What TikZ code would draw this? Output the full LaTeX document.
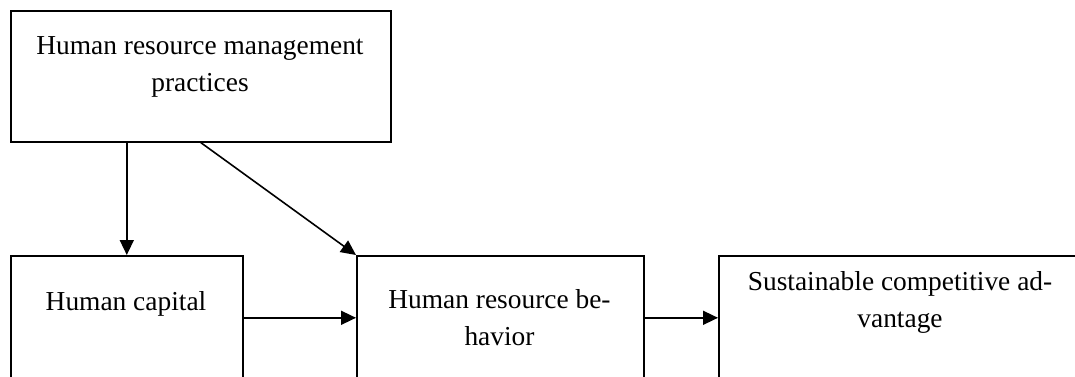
\documentclass[tikz,border=0pt]{standalone}
\usepackage{fontspec}
\setmainfont{Liberation Serif}
\usetikzlibrary{arrows.meta}
\begin{document}
\begin{tikzpicture}[x=1pt,y=-1pt,
  box/.style={draw=black,line width=1.6pt,inner sep=0pt,anchor=north west},
  lbl/.style={font=\fontsize{27.4}{37}\selectfont,align=center,inner sep=0pt},
  arr/.style={line width=1.6pt,-{Triangle[length=15pt,width=14pt]}}]
\useasboundingbox (0,0) rectangle (1075,376);
\clip (0,0) rectangle (1075,376);
\fill[white] (0,0) rectangle (1075,376);
% boxes
\node[box,minimum width=380pt,minimum height=131pt] (hrm) at (10,10) {};
\node[box,minimum width=232pt,minimum height=124pt] (hc) at (10,255) {};
\node[box,minimum width=287pt,minimum height=124pt] (hrb) at (356,255) {};
\node[box,minimum width=364pt,minimum height=124pt] (sca) at (718,255) {};
% texts
\node[lbl] (thrm) at (200,67.2) {Human resource management\\practices};
\node[lbl,anchor=base] (thc) at (126,310) {Human capital};
\node[lbl] (thrb) at (499.5,317.7) {Human resource be-\\havior};
\node[lbl] (tsca) at (900,302.5) {Sustainable competitive ad-\\vantage};
% connectors
\draw[arr] (hrm.south -| hc.north) -- (hc.north);
\draw[arr] (hrm.south) -- (hrb.north west);
\draw[arr] (hc.east) -- (hrb.west);
\draw[arr] (hrb.east) -- (sca.west);
\end{tikzpicture}
\end{document}
